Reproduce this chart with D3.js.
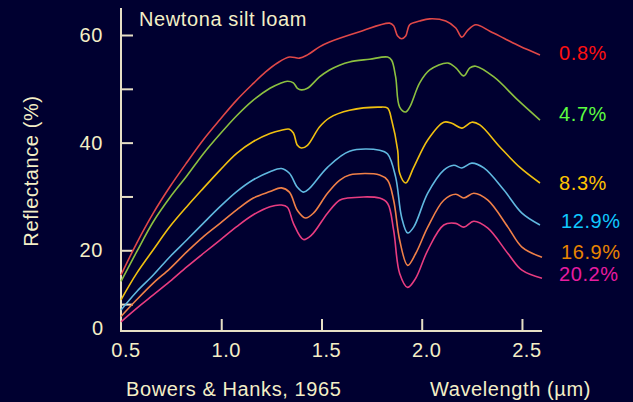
<!DOCTYPE html>
<html>
<head>
<meta charset="utf-8">
<script src="https://cdn.jsdelivr.net/npm/d3@7"></script>
<style>
  html, body { margin: 0; padding: 0; background: #000030; }
  svg { display: block; }
  text { font-family: "Liberation Sans", Arial, Helvetica, sans-serif; fill: #f4efc6; }
</style>
</head>
<body>
<svg id="chart" width="633" height="402"></svg>
<script>
let moisture = ["0.8%", "4.7%", "8.3%", "12.9%", "16.9%", "20.2%"];
let line_colors = ["#e04848", "#8cc040", "#f0c010", "#60b8e0", "#f08048", "#e83c80"];
let label_colors = ["#ff1010", "#5cff40", "#ffc400", "#10c8ff", "#e88400", "#e81ca0"];

let s_08 = [[0.50,15.4],[0.578,21.3],[0.661,26.9],[0.744,31.8],[0.828,36.3],[0.910,40.5],[0.994,44.3],[1.077,47.9],[1.160,51.0],[1.22,53.1],[1.28,54.8],[1.34,55.9],[1.39,55.7],[1.43,56.3],[1.49,57.8],[1.54,58.7],[1.69,60.6],[1.84,62.2],[1.86,61.7],[1.88,59.8],[1.90,59.3],[1.92,59.8],[1.94,61.9],[1.99,62.6],[2.04,63.0],[2.12,62.6],[2.17,61.3],[2.20,59.6],[2.23,60.9],[2.27,61.9],[2.34,60.7],[2.41,59.4],[2.49,57.9],[2.59,56.3]];
let s_47 = [[0.50,14.2],[0.578,19.7],[0.661,25.3],[0.744,29.8],[0.828,33.8],[0.910,37.9],[0.994,41.6],[1.077,45.0],[1.160,47.9],[1.243,50.1],[1.293,51.0],[1.33,51.4],[1.36,51.1],[1.38,50.1],[1.40,49.8],[1.43,50.1],[1.49,52.2],[1.54,53.5],[1.59,54.4],[1.64,55.0],[1.74,55.5],[1.83,55.9],[1.85,55.3],[1.87,52.2],[1.89,46.6],[1.92,45.7],[1.94,46.6],[1.99,51.1],[2.04,53.5],[2.13,54.8],[2.17,53.9],[2.21,52.4],[2.24,53.9],[2.27,54.2],[2.36,52.2],[2.48,47.9],[2.59,44.2]];
let s_83 = [[0.50,10.8],[0.578,15.7],[0.661,20.1],[0.744,24.4],[0.828,28.1],[0.910,31.5],[0.994,34.9],[1.077,38.0],[1.160,40.2],[1.243,41.7],[1.30,42.3],[1.34,42.5],[1.36,41.8],[1.38,39.5],[1.40,39.0],[1.43,39.5],[1.49,42.9],[1.54,44.6],[1.64,46.0],[1.79,46.6],[1.83,46.4],[1.85,44.2],[1.88,38.6],[1.89,34.3],[1.92,32.5],[1.96,35.4],[2.03,40.5],[2.11,43.8],[2.15,43.6],[2.20,42.7],[2.25,43.8],[2.29,43.3],[2.39,39.2],[2.49,35.4],[2.59,32.5]];
let s_129 = [[0.50,8.9],[0.578,12.3],[0.661,15.4],[0.744,18.8],[0.828,21.9],[0.910,25.0],[0.994,28.1],[1.077,30.9],[1.160,33.1],[1.243,34.6],[1.30,35.2],[1.34,34.3],[1.38,31.7],[1.41,30.8],[1.44,31.5],[1.53,35.4],[1.64,38.4],[1.79,38.6],[1.83,37.9],[1.87,33.6],[1.90,26.1],[1.93,23.2],[1.96,24.3],[2.03,30.6],[2.11,34.9],[2.16,35.8],[2.20,35.3],[2.25,36.2],[2.31,35.3],[2.41,31.2],[2.50,26.9],[2.59,24.7]];
let s_169 = [[0.50,7.7],[0.578,10.8],[0.661,13.9],[0.744,16.6],[0.828,19.7],[0.910,22.5],[0.994,25.0],[1.077,27.5],[1.160,29.7],[1.243,30.9],[1.30,31.6],[1.34,30.8],[1.38,27.4],[1.42,26.0],[1.46,26.9],[1.53,30.6],[1.59,33.0],[1.64,34.0],[1.79,34.0],[1.83,33.0],[1.86,29.3],[1.89,21.9],[1.93,17.2],[1.97,19.4],[2.03,24.3],[2.11,29.3],[2.17,30.4],[2.21,29.7],[2.26,30.6],[2.33,29.3],[2.43,24.3],[2.50,20.6],[2.60,18.7]];
let s_202 = [[0.50,6.7],[0.578,9.2],[0.661,11.7],[0.744,14.2],[0.828,16.9],[0.910,19.4],[0.994,21.9],[1.077,24.4],[1.160,26.6],[1.243,28.1],[1.30,28.4],[1.33,28.0],[1.36,25.0],[1.41,22.0],[1.45,22.8],[1.53,26.9],[1.59,29.3],[1.63,29.7],[1.79,29.7],[1.83,28.7],[1.86,23.7],[1.89,15.7],[1.93,13.1],[1.97,14.8],[2.03,20.0],[2.11,24.7],[2.17,25.0],[2.21,24.3],[2.26,25.4],[2.33,24.1],[2.43,19.4],[2.50,16.3],[2.60,14.8]];
let series = [s_08, s_47, s_83, s_129, s_169, s_202];

// label baselines sit a little off the curve ends, so keep them as values too
let label_vals = [55.3, 44.0, 31.2, 24.2, 18.4, 14.3];

let x_ticks = [0.5, 1.0, 1.5, 2.0, 2.5];
let y_ticks = [10, 20, 30, 40, 50, 60];
let y_labels = [20, 40, 60];

let svg = d3.select("#chart");
let axisColor = "#e6dfc4";
let fontSize = "20px";
let spacing = "0.6px";

let x = d3.scaleLinear().domain([0.5, 2.6]).range([121, 542]);
let y = d3.scaleLinear().domain([5, 60]).range([331, 35]);

// axes
let xAxis = svg.append("g")
	.attr("transform", `translate(0,${y(5)})`)
	.call(d3.axisBottom(x).tickValues(x_ticks.slice(1)).tickSize(-12).tickFormat(""));
let yAxis = svg.append("g")
	.attr("transform", `translate(${x(0.5)},0)`)
	.call(d3.axisLeft(y).tickValues(y_ticks).tickSize(-12).tickFormat(""));

[xAxis, yAxis].forEach((g) => {
	g.selectAll("line").attr("stroke", axisColor).attr("stroke-width", 2);
	g.select(".domain").remove();
});
svg.append("line")
	.attr("x1", x(0.5)).attr("x2", x(0.5))
	.attr("y1", y(65)).attr("y2", y(5) + 1)
	.attr("stroke", axisColor).attr("stroke-width", 2);
svg.append("line")
	.attr("x1", x(0.5) - 1).attr("x2", x(2.6))
	.attr("y1", y(5)).attr("y2", y(5))
	.attr("stroke", axisColor).attr("stroke-width", 2);

// tick labels
svg.selectAll(".xlab")
	.data(x_ticks)
	.enter().append("text")
	.attr("class", "xlab")
	.attr("x", (d) => x(d) + 5)
	.attr("y", 357)
	.attr("text-anchor", "middle")
	.style("font-size", fontSize)
	.style("letter-spacing", spacing)
	.text((d) => d.toFixed(1));

svg.selectAll(".ylab")
	.data(y_labels)
	.enter().append("text")
	.attr("class", "ylab")
	.attr("x", 103)
	.attr("y", (d) => y(d) + 7)
	.attr("text-anchor", "end")
	.style("font-size", fontSize)
	.style("letter-spacing", spacing)
	.text((d) => d);
svg.append("text")
	.attr("x", 103)
	.attr("y", y(5) + 4)
	.attr("text-anchor", "end")
	.style("font-size", fontSize)
	.text("0");

// titles
svg.append("text")
	.attr("x", 139).attr("y", 26)
	.style("font-size", fontSize)
	.style("letter-spacing", spacing)
	.text("Newtona silt loam");
svg.append("text")
	.attr("x", 126).attr("y", 396)
	.style("font-size", fontSize)
	.style("letter-spacing", spacing)
	.text("Bowers & Hanks, 1965");
svg.append("text")
	.attr("x", 430).attr("y", 396)
	.style("font-size", fontSize)
	.style("letter-spacing", spacing)
	.text("Wavelength (\u00b5m)");
svg.append("text")
	.attr("transform", "translate(38,171) rotate(-90)")
	.attr("text-anchor", "middle")
	.style("font-size", fontSize)
	.style("letter-spacing", spacing)
	.text("Reflectance (%)");

// spectra
let line = d3.line()
	.x((d) => x(d[0]))
	.y((d) => y(d[1]))
	.curve(d3.curveCatmullRom.alpha(0.5));

svg.selectAll(".spectrum")
	.data(series)
	.enter().append("path")
	.attr("class", "spectrum")
	.attr("d", line)
	.attr("fill", "none")
	.attr("stroke", (d, i) => line_colors[i])
	.attr("stroke-width", 1.6);

svg.selectAll(".mlab")
	.data(moisture)
	.enter().append("text")
	.attr("class", "mlab")
	.attr("x", (d, i) => i > 2 && i < 5 ? 561 : 559)
	.attr("y", (d, i) => y(label_vals[i]))
	.style("font-size", fontSize)
	.style("letter-spacing", spacing)
	.style("fill", (d, i) => label_colors[i])
	.text((d) => d);
</script>
</body>
</html>
